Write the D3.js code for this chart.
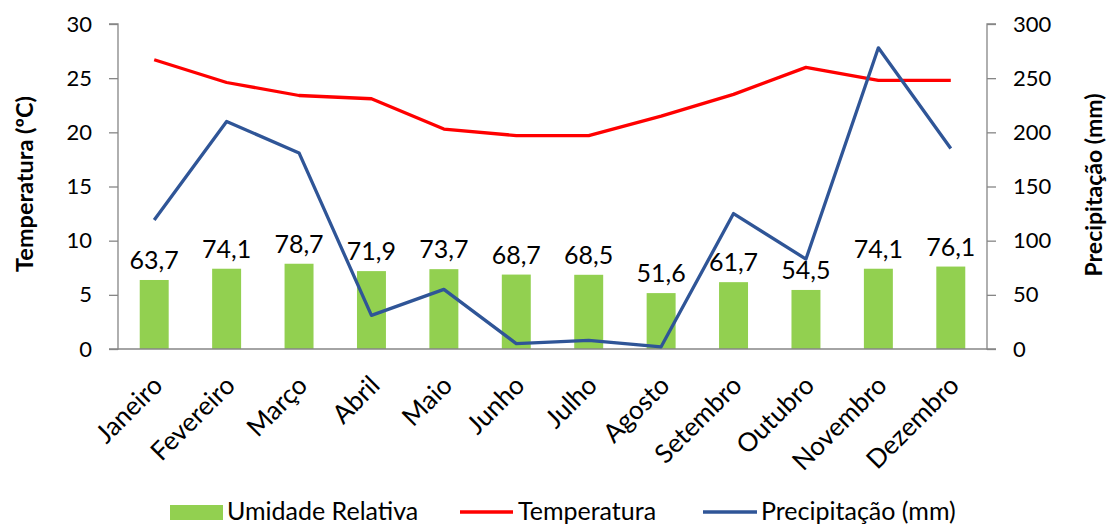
<!DOCTYPE html>
<html>
<head>
<meta charset="utf-8">
<script src="https://cdn.jsdelivr.net/npm/d3@7"></script>
<style>
  html, body { margin: 0; padding: 0; background: #fff; }
  svg { display: block; font-family: Lato, "Open Sans", sans-serif; }
</style>
</head>
<body>
<svg id="chart" width="1108" height="524"></svg>
<script>
// Monthly climate data
const months = ["Janeiro", "Fevereiro", "Março", "Abril", "Maio", "Junho",
                "Julho", "Agosto", "Setembro", "Outubro", "Novembro", "Dezembro"];
const humidity = [63.7, 74.1, 78.7, 71.9, 73.7, 68.7, 68.5, 51.6, 61.7, 54.5, 74.1, 76.1];
const temperature = [26.7, 24.6, 23.4, 23.1, 20.3, 19.7, 19.7, 21.5, 23.5, 26.0, 24.8, 24.8];
const precipitation = [119, 210, 181, 31, 55, 5, 8, 2, 125, 83, 278, 185];
const leftTicks = [0, 5, 10, 15, 20, 25, 30];
const rightTicks = [0, 50, 100, 150, 200, 250, 300];

const svg = d3.select("#chart");
const m = { left: 118, right: 987, top: 24, bottom: 349 };
const axisColor = "#868686";
const fontStack = "Lato, 'Open Sans', sans-serif";

const x = d3.scaleBand().domain(months).range([m.left, m.right]).paddingInner(0.6).paddingOuter(0.3);
const xc = d => x(d) + x.bandwidth() / 2;
const yL = d3.scaleLinear().domain([0, 30]).range([m.bottom, m.top]);
const yR = d3.scaleLinear().domain([0, 300]).range([m.bottom, m.top]);

// Humidity bars (plotted on the temperature axis, scaled by 1/10)
svg.append("g").selectAll("rect").data(months).join("rect")
  .attr("x", d => x(d))
  .attr("width", x.bandwidth())
  .attr("y", (d, i) => yL(humidity[i] / 10))
  .attr("height", (d, i) => yL(0) - yL(humidity[i] / 10))
  .attr("fill", "#92D050");

svg.append("g").selectAll("text").data(months).join("text")
  .attr("x", d => xc(d))
  .attr("y", (d, i) => yL(humidity[i] / 10) - 11)
  .attr("text-anchor", "middle")
  .attr("font-size", 25)
  .attr("fill", "#000")
  .text((d, i) => humidity[i].toFixed(1).replace(".", ","));

// Left axis
const axL = d3.axisLeft(yL).tickValues(leftTicks).tickSize(9).tickPadding(17);
const gL = svg.append("g").attr("transform", `translate(${m.left},0)`).call(axL);
// Right axis
const axR = d3.axisRight(yR).tickValues(rightTicks).tickSize(9).tickPadding(17);
const gR = svg.append("g").attr("transform", `translate(${m.right},0)`).call(axR);
[gL, gR].forEach(g => {
  g.select(".domain").attr("stroke", axisColor).attr("stroke-width", 1.3);
  g.selectAll(".tick line").attr("stroke", axisColor).attr("stroke-width", 1.3);
  g.selectAll(".tick text").attr("font-size", 22).attr("fill", "#000")
    .attr("font-family", fontStack);
});
gL.select(".domain").attr("d", `M-9,${m.top}H0V${m.bottom}H-9`);
gR.select(".domain").attr("d", `M9,${m.top}H0V${m.bottom}H9`);

// Bottom axis
const axB = d3.axisBottom(x).tickSize(0).tickPadding(0);
const gB = svg.append("g").attr("transform", `translate(0,${m.bottom})`).call(axB);
gB.select(".domain").attr("stroke", axisColor).attr("stroke-width", 1.3)
  .attr("d", `M${m.left},0H${m.right}`);
gB.selectAll(".tick text")
  .attr("font-size", 26).attr("fill", "#000")
  .attr("font-family", fontStack)
  .attr("text-anchor", "end")
  .attr("y", 0)
  .attr("dy", null)
  .attr("transform", "translate(10,38) rotate(-45)");

// Temperature line
svg.append("path")
  .datum(temperature)
  .attr("fill", "none").attr("stroke", "#FF0000").attr("stroke-width", 3.3)
  .attr("stroke-linejoin", "round")
  .attr("d", d3.line().x((d, i) => xc(months[i])).y(d => yL(d)));

// Precipitation line
svg.append("path")
  .datum(precipitation)
  .attr("fill", "none").attr("stroke", "#2F5597").attr("stroke-width", 3.3)
  .attr("stroke-linejoin", "round")
  .attr("d", d3.line().x((d, i) => xc(months[i])).y(d => yR(d)));

// Axis titles
svg.append("text")
  .attr("transform", "translate(33,184) rotate(-90)")
  .attr("text-anchor", "middle").attr("font-size", 23.5).attr("font-weight", "bold")
  .text("Temperatura (ºC)");
svg.append("text")
  .attr("transform", "translate(1102,185) rotate(-90)")
  .attr("text-anchor", "middle").attr("font-size", 23).attr("font-weight", "bold")
  .text("Precipitação (mm)");

// Legend
const legend = svg.append("g").attr("font-size", 25);
const ly = 512;
legend.append("rect").attr("x", 170).attr("y", 505).attr("width", 53).attr("height", 15).attr("fill", "#92D050");
legend.append("text").attr("x", 227).attr("y", 520).text("Umidade Relativa");
legend.append("line").attr("x1", 460).attr("x2", 513).attr("y1", ly).attr("y2", ly)
  .attr("stroke", "#FF0000").attr("stroke-width", 3.3);
legend.append("text").attr("x", 518).attr("y", 520).text("Temperatura");
legend.append("line").attr("x1", 703).attr("x2", 757).attr("y1", ly).attr("y2", ly)
  .attr("stroke", "#2F5597").attr("stroke-width", 3.3);
legend.append("text").attr("x", 761).attr("y", 520).text("Precipitação (mm)");
</script>
</body>
</html>
